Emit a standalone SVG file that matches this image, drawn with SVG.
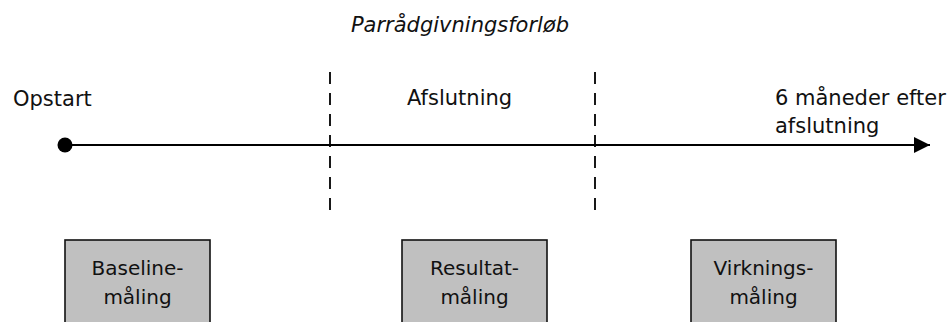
<svg xmlns="http://www.w3.org/2000/svg" width="952" height="322" viewBox="0 0 952 322">
  <style>
    text { font-family: "DejaVu Sans", Verdana, sans-serif; font-size: 21px; fill: #111; }
    .title { font-style: italic; text-anchor: middle; }
    .box rect { fill: #c0c0c0; stroke: #111; stroke-width: 1.6; }
    .box text { font-size: 20px; text-anchor: middle; }
    .axis { stroke: #000; stroke-width: 2; fill: none; }
    .divider { stroke: #000; stroke-width: 1.8; stroke-dasharray: 12 9; fill: none; }
  </style>
  <defs>
    <marker id="arrow" markerUnits="userSpaceOnUse" markerWidth="18" markerHeight="18" refX="16" refY="8" orient="auto">
      <path d="M0,0 L16,8 L0,16 Z" fill="#000"/>
    </marker>
  </defs>

  <text class="title" x="460" y="32">Parrådgivningsforløb</text>

  <!-- timeline with phase dividers -->
  <g id="connectors">
    <line class="axis" x1="65" y1="145" x2="930" y2="145" marker-end="url(#arrow)"/>
    <line class="divider" x1="330" y1="72" x2="330" y2="218"/>
    <line class="divider" x1="595" y1="72" x2="595" y2="218"/>
  </g>

  <g id="start">
    <circle cx="65" cy="145" r="7.5" fill="#000"/>
    <text x="13" y="106">Opstart</text>
  </g>

  <g id="end-phase">
    <text x="407" y="105">Afslutning</text>
  </g>

  <g id="follow-up">
    <text x="775" y="105">6 måneder efter</text>
    <text x="775" y="133">afslutning</text>
  </g>

  <g id="baseline" class="box">
    <rect x="65" y="240" width="145" height="100"/>
    <text x="137.5" y="275">Baseline-</text>
    <text x="137.5" y="304">måling</text>
  </g>

  <g id="resultat" class="box">
    <rect x="402" y="240" width="145" height="100"/>
    <text x="474.5" y="275">Resultat-</text>
    <text x="474.5" y="304">måling</text>
  </g>

  <g id="virkning" class="box">
    <rect x="691" y="240" width="145" height="100"/>
    <text x="763.5" y="275">Virknings-</text>
    <text x="763.5" y="304">måling</text>
  </g>
</svg>
